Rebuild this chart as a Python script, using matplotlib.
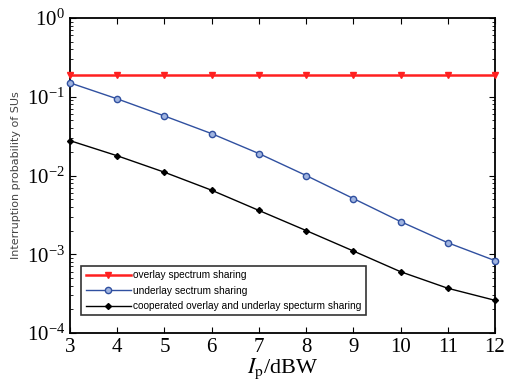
import matplotlib
matplotlib.use("Agg")
import matplotlib.pyplot as plt
from matplotlib.ticker import LogLocator, NullFormatter

plt.rcParams["mathtext.fontset"] = "stix"

x = [3, 4, 5, 6, 7, 8, 9, 10, 11, 12]
overlay = [0.19] * 10
underlay = [0.150, 0.094, 0.057, 0.034, 0.019, 0.0100, 0.0051, 0.0026, 0.0014, 0.00083]
coop = [0.0277, 0.0178, 0.011, 0.0065, 0.0036, 0.0020, 0.0011, 0.00060, 0.00037, 0.00026]
labels = ["overlay spectrum sharing", "underlay sectrum sharing",
          "cooperated overlay and underlay specturm sharing"]

fig = plt.figure(figsize=(5.13, 3.82), dpi=100)
ax = fig.add_axes([70/513, 1-333/382, 425/513, 315/382])

ax.plot(x, overlay, color="#ff2020", lw=1.8, marker="v", ms=5, label=labels[0], clip_on=False, zorder=3)
ax.plot(x, underlay, color="#3050a0", lw=1.0, marker="o", ms=4.5, mfc="#a0b4e0", mec="#3050a0",
        label=labels[1], clip_on=False, zorder=3)
ax.plot(x, coop, color="black", lw=1.0, marker="D", ms=3, label=labels[2], clip_on=False, zorder=3)

ax.set_yscale("log")
ax.set_ylim(1e-4, 1)
ax.set_xlim(3, 12)
ax.set_xticks(x)
ax.yaxis.set_major_locator(LogLocator(base=10, numticks=10))
ax.yaxis.set_minor_locator(LogLocator(base=10, subs=range(2, 10), numticks=20))
ax.yaxis.set_minor_formatter(NullFormatter())
ax.tick_params(which="both", direction="in", top=True, right=True)
ax.tick_params(which="major", length=4, labelsize=15)
ax.tick_params(which="minor", length=2)
for lab in ax.get_xticklabels() + ax.get_yticklabels():
    lab.set_family("Liberation Serif")
for s in ax.spines.values():
    s.set_linewidth(1.3)

ax.set_xlabel(r"$I_\mathrm{p}$/dBW", fontsize=16, family="Liberation Serif", labelpad=0)
ax.set_ylabel("Interruption probability of SUs", fontsize=8, color="#444444", labelpad=4)

leg = ax.legend(loc="lower left", frameon=True, fancybox=False,
                prop={"family": "Liberation Sans", "size": 7.3},
                edgecolor="black", borderpad=0.4, labelspacing=0.55, handlelength=4.5,
                handletextpad=0.2, bbox_to_anchor=(0.015, 0.04))
leg.get_frame().set_linewidth(1.2)

fig.savefig("out.png", dpi=100)
